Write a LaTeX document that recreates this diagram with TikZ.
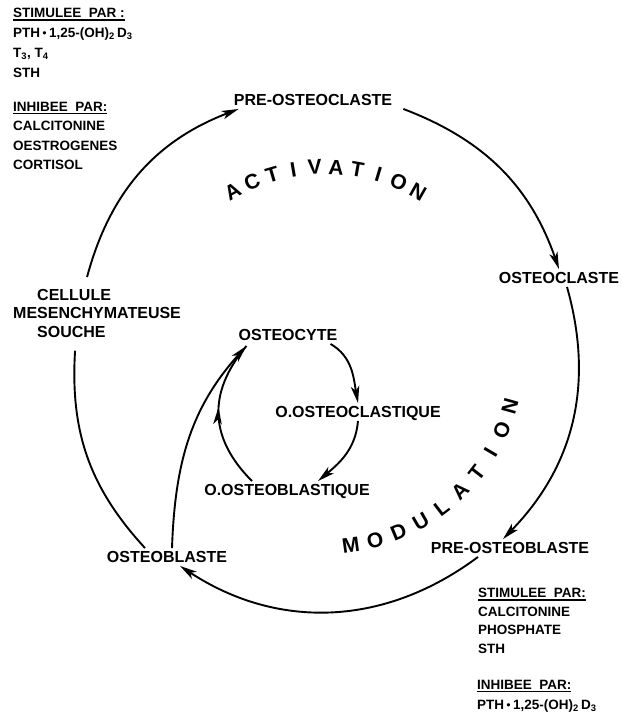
\documentclass[tikz,border=0pt]{standalone}
\usepackage{fontspec}
\setmainfont{Liberation Sans}
\usetikzlibrary{arrows.meta,decorations.markings}
\newcommand{\ulbar}[1]{\setbox0\hbox{#1}\rlap{\rule[-3pt]{\wd0}{1.3pt}}\box0}
\newcommand{\plusdot}{\,\raisebox{0.3ex}{\scalebox{0.6}{$\bullet$}}\,}
\tikzset{
  cell/.style={font=\fontsize{16}{18.5}\selectfont\bfseries, inner sep=3pt, text height=11.5pt, text depth=0pt},
  msctext/.style={font=\fontsize{16}{18.5}\selectfont\bfseries, inner sep=3pt, align=left, anchor=north west},
  note/.style={font=\fontsize{13.5}{19.5}\selectfont\bfseries, align=left, anchor=north west, inner sep=0pt},
  phase/.style={font=\fontsize{21}{21}\selectfont\bfseries, inner sep=0pt},
  cyclearrow/.style={line width=1.9pt, -{Stealth[length=17pt,width=8.5pt,inset=4.5pt]}},
  cycleline/.style={line width=1.9pt},
  midarrow/.style={postaction={decorate}, decoration={markings,
    mark=at position #1 with {\arrow{Stealth[length=17pt,width=8.5pt,inset=4.5pt]}}}}
}

\begin{document}
\begin{tikzpicture}[x=1pt,y=1pt]
  \useasboundingbox (0,0) rectangle (622,-724);
  \coordinate (cen) at (325,-355);
  % regulation notes
  \node[note] (stimA) at (13,-8) {\ulbar{STIMULEE\ \ PAR :}\\[0.5pt]
    PTH\plusdot 1,25-(OH)\textsubscript{2}\,D\textsubscript{3}\\[0.5pt]
    T\textsubscript{3}, T\textsubscript{4}\\[0.5pt]STH};
  \node[note] (inhibA) at (13,-102) {\ulbar{INHIBEE\ \ PAR:}\\CALCITONINE\\OESTROGENES\\CORTISOL};
  \node[note] (stimB) at (478,-588) {\ulbar{STIMULEE\ \ PAR:}\\[-1pt]CALCITONINE\\[-1pt]PHOSPHATE\\[-1pt]STH};
  \node[note] (inhibB) at (477,-680) {\ulbar{INHIBEE\ \ PAR:}\\[0.5pt]PTH\plusdot 1,25-(OH)\textsubscript{2}\,D\textsubscript{3}};
  % outer cycle
  \node[cell] (preoc) at (313,-100) {PRE-OSTEOCLASTE};
  \node[cell] (oc) at (559,-278) {OSTEOCLASTE};
  \node[cell] (preob) at (510,-548) {PRE-OSTEOBLASTE};
  \node[cell] (ob) at (167,-557) {OSTEOBLASTE};
  \node[msctext] (msc) at (10,-286) {\hspace*{24pt}CELLULE\\MESENCHYMATEUSE\\\hspace*{24pt}SOUCHE};
  % inner cycle
  \node[cell] (ocyte) at (288,-335) {OSTEOCYTE};
  \node[cell] (oocl) at (358,-412) {O.OSTEOCLASTIQUE};
  \node[cell] (oobl) at (287,-490) {O.OSTEOBLASTIQUE};
  \coordinate (ocytein) at ([xshift=11pt,yshift=-2pt]ocyte.south west);
  % outer arcs
  \draw[cyclearrow] ([shift={(-10pt,9pt)}]msc.north) to[bend left=27] ([xshift=8pt]preoc.south west);
  \draw[cyclearrow] ([xshift=8pt]preoc.south east) to[bend left=25] (oc.north);
  \draw[cyclearrow] ([xshift=8pt]oc.south) to[bend left=30] ([xshift=-7pt]preob.north);
  \draw[cyclearrow] ([xshift=-32pt]preob.south) to[bend left=35] ([xshift=13pt]ob.south);
  \draw[cycleline] ([xshift=-22pt]ob.north) to[bend left=23] ([shift={(-22pt,-10pt)}]msc.south);
  % inner arcs
  \draw[cyclearrow] ([xshift=-10pt]ocyte.south east) to[out=-30,in=100] (oocl.north);
  \draw[cyclearrow] (oocl.south) to[out=-95,in=40] ([xshift=31pt]oobl.north);
  \draw[cycleline, midarrow=0.55] ([xshift=-35pt]oobl.north) to[out=135,in=230,looseness=1.15] (ocytein);
  \draw[cyclearrow] ([xshift=5pt]ob.north) to[out=88,in=228] (ocytein);
  % phase labels
  \foreach \ch [count=\i] in {A,C,T,I,V,A,T,I,O,N} {
    \pgfmathsetmacro{\ang}{119.4-6.56*(\i-1)}
    \node[phase, rotate=\ang-90] (act\i) at ([shift={(\ang:188)}]cen) {\ch};
  }
  \foreach \ch [count=\i] in {M,O,D,U,L,A,T,I,O,N} {
    \pgfmathsetmacro{\ang}{-82.3+7.42*(\i-1)}
    \node[phase, rotate=\ang+90] (mod\i) at ([shift={(\ang:192)}]cen) {\ch};
  }
\end{tikzpicture}
\end{document}
